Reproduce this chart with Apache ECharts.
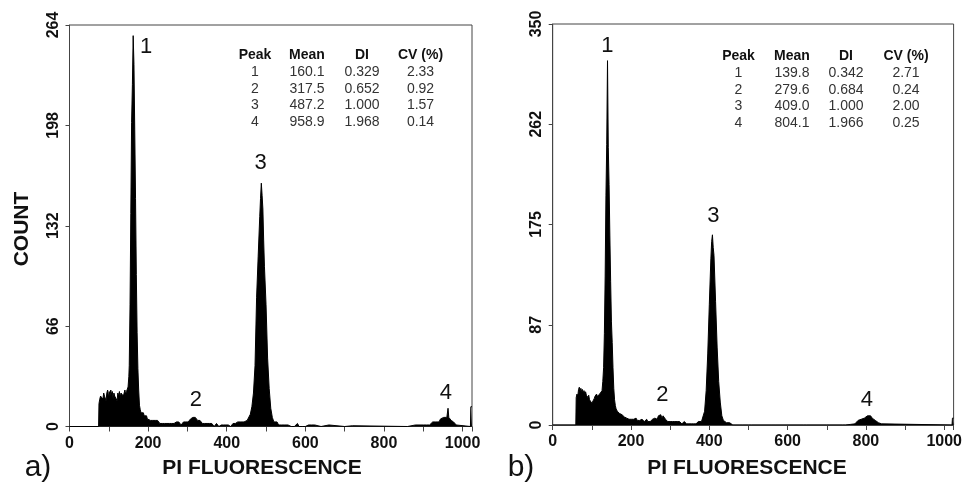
<!DOCTYPE html>
<html><head><meta charset="utf-8">
<script src="https://cdn.jsdelivr.net/npm/echarts@6/dist/echarts.min.js"></script>
<style>html,body{margin:0;padding:0;background:#fff}#c{width:965px;height:484px}</style>
</head><body><div id="c"></div>
<script>
// ---- Panel a) histogram (channel, count) ----
const aX = [0,74,75,77,79,81,83,85,87,89,91,93,95,97,99,101,103,105,107,109,111,113,115,117,119,121,123,125,127,129,131,133,135,137,139,141,143,145,147,149,151,152,154,156,158,160,162,164,166,168,170,172,174,176,178,180,182,184,186,188,190,192,194,196,198,200,203,206,209,212,215,218,221,224,227,230,233,236,239,242,245,248,251,254,257,260,263,266,269,272,275,278,281,284,287,290,293,296,299,302,305,308,311,314,317,320,323,326,329,332,335,338,341,344,347,350,353,356,359,362,365,368,371,374,377,380,383,386,389,392,395,398,401,404,407,410,413,416,419,422,425,428,432,436,440,444,448,452,456,460,464,468,472,476,480,484,486,488,490,492,494,496,500,504,508,512,516,520,524,528,532,536,540,544,548,552,556,560,564,568,572,576,580,584,588,592,596,600,604,608,612,616,620,624,628,640,660,664,700,720,724,860,880,884,900,904,908,912,916,920,924,928,932,936,940,944,948,952,956,960,963,965,968,971,974,977,980,984,988,1020,1021,1024];
const aY = [0,0,15,18,20,19,21,18,22,20,21,17,22,24,19,23,20,24,21,23,18,22,20,21,19,17,22,20,23,19,22,21,23,20,22,24,21,23,22,26,33,40,80,140,200,225,257,238,195,150,100,62,38,24,14,11,9,10,8,9,7,8,6,7,5,6,5,4,5,4,3,4,3,4,3,2,3,2,3,2,3,2,3,2,3,2,3,2,1,3,2,3,2,1,2,3,2,3,2,3,4,5,4,6,7,6,5,4,3,4,3,2,3,2,1,2,3,2,1,2,1,0,1,2,1,0,1,1,0,1,2,1,0,1,1,0,1,2,1,2,1,3,2,3,2,3,3,4,5,8,13,22,40,85,112,138,150,160,152,143,122,105,80,45,25,12,6,3,2,3,1,2,1,0,1,0,1,0,0,1,0,1,2,0,1,0,1,0,0,1,0,1,0,1,0,0,1,0,0,0.5,0,0,1,0,1,0,1,2,1,2,3,2,3,4,3,5,4,6,5,6,12,6,5,4,5,3,2,1,0,0,13,13];
// ---- Panel b) histogram (channel, count) ----
const bX = [0,59,60,62,64,66,68,70,72,74,76,78,80,82,84,86,88,90,92,94,96,98,100,102,104,106,108,110,112,114,116,118,120,122,124,126,128,130,132,134,136,138,140,142,144,146,148,150,152,154,156,158,160,162,165,168,171,174,177,180,183,186,189,192,195,198,201,204,207,210,213,216,219,222,225,228,231,234,237,240,243,246,249,252,255,258,261,264,267,270,273,276,279,282,285,288,291,294,297,300,303,306,309,312,315,318,321,324,327,330,333,336,339,342,345,348,351,354,357,360,363,366,369,372,376,380,384,388,392,396,400,404,406,408,410,412,416,420,424,428,432,436,440,444,448,452,456,460,464,468,472,476,480,484,500,504,508,560,564,568,640,644,648,700,704,708,740,744,748,760,764,772,776,780,784,788,792,796,800,804,808,812,816,820,824,828,832,836,840,844,1020,1021,1024];
const bY = [0,0,24,27,25,31,33,30,32,29,31,28,30,27,29,26,27,24,26,22,23,21,19,20,18,23,25,24,27,25,26,24,27,26,28,30,38,50,80,130,200,245,318,242,210,165,125,90,72,50,32,22,17,14,12,13,10,11,9,8,7,8,6,7,5,6,5,4,5,4,6,4,5,4,3,5,4,3,4,5,3,4,3,4,5,4,6,7,5,8,7,9,6,8,7,5,4,3,4,3,2,3,4,3,2,3,2,3,2,1,2,3,2,1,2,1,2,1,2,1,2,1,2,3,2,3,4,12,30,62,105,145,160,166,155,148,108,68,38,20,8,4,2.5,2,1,2,1,0,1,0,1,0,1,0,0,0.5,0,0,0.5,0,0,0.5,0,0,0.5,0,0,0.5,0,0.5,0,1,2,4,3,5,4,6,7,8,7,8,6,5,4,3,2,1,1,0,0,6,6];

// ---- Tick / label texts ----
const aYMax = 264, aYStep = 66;
const bYMax = 350, bYStep = 87.5;
const xMax = 1024, xStep = 100, xLabelStep = 200;

// ---- Peak labels (data coords) ----
const aPeakNames = ['1','2','3','4'];
const aPeakX = [194.7, 321.4, 486, 957.5];
const aPeakY = [249.4, 17.7, 173.5, 22];
const bPeakNames = ['1','2','3','4'];
const bPeakX = [139.7, 279.9, 410.7, 802.4];
const bPeakY = [330.5, 26.2, 182.4, 21.8];

// ---- Tables ----
const tableHeader = ['Peak','Mean','DI','CV (%)'];
const aPeak = ['1','2','3','4'];
const aMean = ['160.1','317.5','487.2','958.9'];
const aDI = ['0.329','0.652','1.000','1.968'];
const aCV = ['2.33','0.92','1.57','0.14'];
const bPeak = ['1','2','3','4'];
const bMean = ['139.8','279.6','409.0','804.1'];
const bDI = ['0.342','0.684','1.000','1.966'];
const bCV = ['2.71','0.24','2.00','0.25'];

const FONT = '"Liberation Sans", Arial, sans-serif';
const AX = '#444';

function pairs(xs, ys){ return xs.map((x,i)=>[x, ys[i]]); }

function xAxisCfg(gi){
  return {
    gridIndex: gi, type:'value', min:0, max:xMax, interval:xStep,
    axisLine:{show:true, lineStyle:{color:AX, width:1}},
    axisTick:{show:true, inside:false, length:5, lineStyle:{color:AX}},
    splitLine:{show:false},
    axisLabel:{margin:9, fontFamily:FONT, fontWeight:'bold', fontSize:16, color:'#111',
      formatter: v => (v % xLabelStep === 0 ? String(v) : '')}
  };
}
function yAxisCfg(gi, max, step){
  return {
    gridIndex: gi, type:'value', min:0, max:max, interval:step,
    axisLine:{show:true, lineStyle:{color:AX, width:1}},
    axisTick:{show:true, inside:false, length:4, lineStyle:{color:AX}},
    splitLine:{show:false},
    axisLabel:{rotate:90, margin:8, fontFamily:FONT, fontWeight:'bold', fontSize:16, color:'#111',
      formatter: v => String(Math.floor(v))}
  };
}
function histSeries(gi, xs, ys, names, px, py){
  return {
    type:'line', xAxisIndex:gi, yAxisIndex:gi, data:pairs(xs, ys),
    symbol:'none', smooth:false, silent:true,
    lineStyle:{color:'#000', width:1},
    areaStyle:{color:'#000', opacity:1},
    markPoint:{
      symbol:'circle', symbolSize:0, silent:true,
      label:{show:true, position:'inside', formatter: p => p.name,
        fontFamily:FONT, fontSize:22, color:'#111'},
      data: names.map((n,i)=>({name:n, coord:[px[i], py[i]]}))
    }
  };
}
function tableGraphics(cols, header, rows, headerY, rowY0, rowDy){
  const els = [];
  header.forEach((h,i)=>els.push({type:'text', x:cols[i], y:headerY,
    style:{text:h, fill:'#111', font:'bold 14px '+FONT, textAlign:'center', textVerticalAlign:'middle'}}));
  rows.forEach((col,ci)=>col.forEach((t,ri)=>els.push({type:'text', x:cols[ci], y:rowY0+ri*rowDy,
    style:{text:t, fill:'#333', font:'14px '+FONT, textAlign:'center', textVerticalAlign:'middle'}})));
  return els;
}

const chart = echarts.init(document.getElementById('c'), null, {renderer:'canvas'});
const graphics = [
  {type:'text', x:22, y:229, rotation:Math.PI/2,
    style:{text:'COUNT', fill:'#111', font:'bold 21px '+FONT, textAlign:'center', textVerticalAlign:'middle'}},
  {type:'text', x:262, y:468,
    style:{text:'PI FLUORESCENCE', fill:'#111', font:'bold 21px '+FONT, textAlign:'center', textVerticalAlign:'middle'}},
  {type:'text', x:747, y:468,
    style:{text:'PI FLUORESCENCE', fill:'#111', font:'bold 21px '+FONT, textAlign:'center', textVerticalAlign:'middle'}},
  {type:'text', x:38, y:468,
    style:{text:'a)', fill:'#111', font:'30px '+FONT, textAlign:'center', textVerticalAlign:'middle'}},
  {type:'text', x:521, y:468,
    style:{text:'b)', fill:'#111', font:'30px '+FONT, textAlign:'center', textVerticalAlign:'middle'}}
].concat(
  tableGraphics([255,307,362,420.5], tableHeader, [aPeak,aMean,aDI,aCV], 55.5, 72, 16.7),
  tableGraphics([738.5,792,846,906], tableHeader, [bPeak,bMean,bDI,bCV], 56.5, 73, 16.8)
);

chart.setOption({
  animation:false,
  backgroundColor:'#fff',
  grid:[
    {left:69.5, top:25, width:402.5, height:401.5, show:true, borderColor:AX, borderWidth:1, backgroundColor:'transparent'},
    {left:552.7, top:24, width:402, height:401, show:true, borderColor:AX, borderWidth:1, backgroundColor:'transparent'}
  ],
  xAxis:[xAxisCfg(0), xAxisCfg(1)],
  yAxis:[yAxisCfg(0, aYMax, aYStep), yAxisCfg(1, bYMax, bYStep)],
  series:[
    histSeries(0, aX, aY, aPeakNames, aPeakX, aPeakY),
    histSeries(1, bX, bY, bPeakNames, bPeakX, bPeakY)
  ],
  graphic: graphics
});
</script>
</body></html>
